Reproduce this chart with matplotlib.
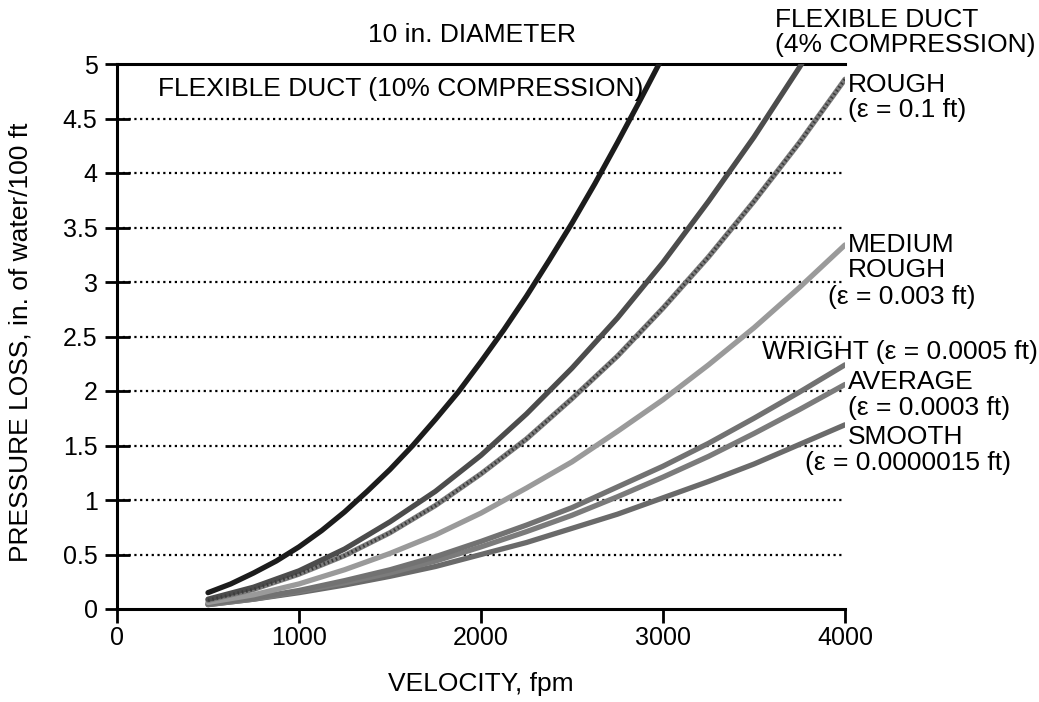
#! /usr/bin/env python3
"""Druckverlust ueber Geschwindigkeit, 10 in. Rohr."""

import numpy as np
import matplotlib
matplotlib.use('Agg')
import matplotlib.pyplot as plt

plt.rcParams['font.family'] = ['Liberation Sans', 'DejaVu Sans']

v = [500, 750, 1000, 1250, 1500, 1750, 2000, 2250, 2500, 2750, 3000,
     3250, 3500, 3750, 4000]
v_flex10 = [500, 625, 750, 875, 1000, 1125, 1250, 1375, 1500, 1625, 1750,
            1875, 2000, 2125, 2250, 2375, 2500, 2625, 2750, 2875, 3000]

flex10 = [0.15, 0.23, 0.33, 0.44, 0.57, 0.72, 0.89, 1.08, 1.28, 1.50, 1.74,
          1.99, 2.27, 2.56, 2.87, 3.20, 3.54, 3.90, 4.28, 4.67, 5.07]
flex4 = [0.09, 0.20, 0.35, 0.55, 0.80, 1.08, 1.41, 1.79, 2.21, 2.67, 3.18,
         3.74, 4.33, 4.97, 5.66]
rough = [0.08, 0.18, 0.32, 0.49, 0.70, 0.95, 1.24, 1.56, 1.93, 2.32, 2.76,
         3.23, 3.74, 4.28, 4.86]
medium = [0.06, 0.13, 0.23, 0.36, 0.51, 0.68, 0.88, 1.11, 1.35, 1.63, 1.92,
          2.24, 2.58, 2.95, 3.34]
wright = [0.05, 0.10, 0.17, 0.26, 0.36, 0.48, 0.62, 0.77, 0.93, 1.12, 1.31,
          1.52, 1.75, 1.99, 2.24]
average = [0.04, 0.09, 0.16, 0.24, 0.33, 0.44, 0.57, 0.71, 0.86, 1.03, 1.21,
           1.40, 1.61, 1.83, 2.06]
smooth = [0.04, 0.09, 0.15, 0.22, 0.30, 0.39, 0.50, 0.61, 0.74, 0.87, 1.02,
          1.17, 1.33, 1.51, 1.69]

yticks = [0, 0.5, 1, 1.5, 2, 2.5, 3, 3.5, 4, 4.5, 5]
ytick_labels = ['0', '0.5', '1', '1.5', '2', '2.5', '3', '3.5', '4', '4.5', '5']
xticks = [0, 1000, 2000, 3000, 4000]

W, H = 1039, 702
fig = plt.figure(figsize=(W / 100, H / 100), dpi=100)
ax = fig.add_axes([117 / W, 1 - 609 / H, (845 - 117) / W, (609 - 64) / H])

# Gitterlinien (gepunktet)
for y in yticks[1:-1]:
    ax.plot([0, 4000], [y, y], color='black', lw=1.6,
            linestyle=(0, (1, 1.6)), zorder=1)

lw = 3.8
kw = dict(lw=lw, solid_capstyle='round', solid_joinstyle='round', zorder=3)
ax.plot(v, smooth, color='#6a6a6a', **kw)
ax.plot(v, average, color='#7b7b7b', **kw)
ax.plot(v, wright, color='#727272', **kw)
ax.plot(v, medium, color='#9a9a9a', **kw)
# rauhe Linie: gesprenkelt
ax.plot(v, rough, color='#7c7c7c', **kw)
ax.plot(v, rough, color='#3c3c3c', lw=2.4, linestyle=(0, (0.5, 0.8)), zorder=4)
ax.plot(v, flex4, color='#4c4c4c', **kw)
ax.plot(v_flex10, flex10, color='#1c1c1c', **kw)

ax.set_xlim(0, 4000)
ax.set_ylim(0, 5)
ax.set_xticks(xticks)
ax.set_xticklabels([str(x) for x in xticks])
ax.set_yticks(yticks)
ax.set_yticklabels(ytick_labels)

for s in ['left', 'bottom', 'top']:
    ax.spines[s].set_linewidth(2.2)
ax.spines['right'].set_visible(False)
ax.tick_params(axis='y', direction='inout', length=18, width=2,
               labelsize=18, pad=5)
ax.tick_params(axis='x', direction='out', length=10, width=2,
               labelsize=18, pad=2)

ax.set_xlabel('VELOCITY, fpm', fontsize=19)
ax.xaxis.set_label_coords(0.5, (609 - 672) / 545)
ax.set_ylabel('PRESSURE LOSS, in. of water/100 ft', fontsize=19)
ax.yaxis.set_label_coords((33 - 117) / 728, 0.49)


def label(x, y, s, ha='left'):
    fig.text(x / W, 1 - y / H, s, fontsize=19, ha=ha, va='center')


label(472, 35, '10 in. DIAMETER', ha='center')
label(158, 89, 'FLEXIBLE DUCT (10% COMPRESSION)')
label(775, 20, 'FLEXIBLE DUCT')
label(775, 45, '(4% COMPRESSION)')
label(848, 85, 'ROUGH')
label(848, 110, '(\u03b5 = 0.1 ft)')
label(848, 245, 'MEDIUM')
label(848, 270, 'ROUGH')
label(828, 297, '(\u03b5 = 0.003 ft)')
label(762, 352, 'WRIGHT (\u03b5 = 0.0005 ft)')
label(848, 382, 'AVERAGE')
label(848, 408, '(\u03b5 = 0.0003 ft)')
label(848, 437, 'SMOOTH')
label(805, 463, '(\u03b5 = 0.0000015 ft)')

fig.savefig('out.png', dpi=100)
